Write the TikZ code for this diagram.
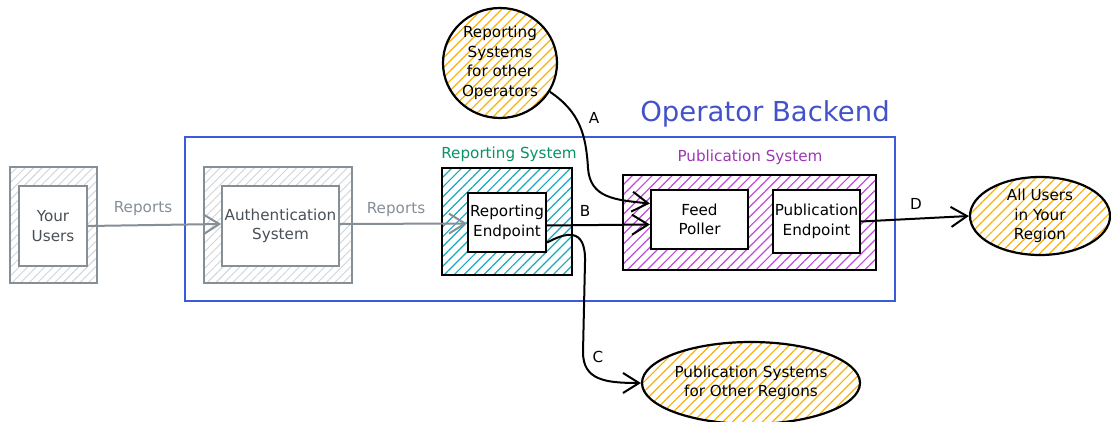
\documentclass[tikz,border=0pt]{standalone}
\usepackage{fontspec}
\setmainfont{DejaVu Sans}
\usetikzlibrary{shapes.geometric,patterns.meta,arrows.meta,calc}
\definecolor{gline}{HTML}{868E96}
\definecolor{gtext}{HTML}{495057}
\definecolor{ghatch}{HTML}{CED4DA}
\definecolor{teal}{HTML}{15AABF}
\definecolor{purp}{HTML}{BE4BDB}
\definecolor{purptext}{HTML}{9C36B5}
\definecolor{greentext}{HTML}{099268}
\definecolor{orng}{HTML}{FAB005}
\definecolor{blueline}{HTML}{3B5BDB}
\definecolor{bluetext}{HTML}{4253C9}
\tikzset{
  txt/.style={font=\fontsize{15.2}{19.5}\selectfont, align=center},
  graybox/.style={draw=gline, line width=1.7pt, pattern={Lines[angle=45,distance=6pt,line width=0.9pt]}, pattern color=ghatch, inner sep=0pt},
  grayin/.style={draw=gline, line width=1.7pt, fill=white, text=gtext, txt, inner sep=0pt},
  blkin/.style={draw=black, line width=2.2pt, fill=white, txt, inner sep=0pt},
  tealbox/.style={draw=black, line width=2.2pt, pattern={Lines[angle=45,distance=7pt,line width=1.2pt]}, pattern color=teal, inner sep=0pt},
  purpbox/.style={draw=black, line width=2.2pt, pattern={Lines[angle=45,distance=7pt,line width=1.2pt]}, pattern color=purp, inner sep=0pt},
  orngell/.style={ellipse, draw=black, line width=2.2pt, pattern={Lines[angle=45,distance=7pt,line width=1.2pt]}, pattern color=orng, txt, inner sep=0pt},
  garrow/.style={draw=gline, line width=2pt, -{Straight Barb[length=16pt,width=20pt,line width=2pt]}},
  barrow/.style={draw=black, line width=2pt, -{Straight Barb[length=16pt,width=20pt,line width=2pt]}},
  glabel/.style={txt, text=gline},
  blabel/.style={txt, text=black},
}
\begin{document}
\begin{tikzpicture}[x=1pt,y=-1pt]
\useasboundingbox (0,0) rectangle (1111,422);
% Operator backend
\draw[draw=blueline, line width=1.7pt] (185,137) rectangle (895,301);
\node[font=\fontsize{27.5}{32}\selectfont, text=bluetext, anchor=center] (obt) at (765,114) {Operator Backend};
% Your users
\node[graybox, minimum width=87pt, minimum height=116pt] (yuo) at (53.5,225) {};
\node[grayin, minimum width=68pt, minimum height=80pt] (yu) at (53,226) {Your\\Users};
% Auth
\node[graybox, minimum width=148pt, minimum height=116pt] (auo) at (278,225) {};
\node[grayin, minimum width=117pt, minimum height=80pt] (au) at (280.5,226) {Authentication\\System};
% Reporting system
\node[txt, text=greentext] (rsl) at (509,154) {Reporting System};
\node[tealbox, minimum width=130pt, minimum height=107pt] (rsb) at (507,221.5) {};
\node[blkin, minimum width=78pt, minimum height=59pt] (re) at (507,222.5) {Reporting\\Endpoint};
% Publication system
\node[txt, text=purptext] (psl) at (750,157) {Publication System};
\node[purpbox, minimum width=253pt, minimum height=95pt] (psb) at (749.5,222.5) {};
\node[blkin, minimum width=97pt, minimum height=59pt] (fp) at (699.5,219.5) {Feed\\Poller};
\node[blkin, minimum width=87pt, minimum height=63pt] (pe) at (816.5,221.5) {Publication\\Endpoint};
% External
\node[orngell, minimum width=114pt, minimum height=110pt] (rso) at (500,63) {Reporting\\Systems\\for other\\Operators};
\node[orngell, minimum width=140pt, minimum height=78pt] (aur) at (1040,216) {All Users\\in Your\\Region};
\node[orngell, minimum width=218pt, minimum height=82pt] (pso) at (751,383) {Publication Systems\\for Other Regions};
% Reports arrows
\draw[garrow] (yu.east) -- ([yshift=2pt]au.west);
\node[glabel] (r1) at (143,209) {Reports};
\draw[garrow] ([yshift=2pt]au.east) -- ([yshift=-1pt]re.west);
\node[glabel] (r2) at (396,210) {Reports};
% A
\draw[barrow] (rso.-30) .. controls (580,112) and (586,135) .. (588,168) .. controls (590,198) and (615,200) .. ([yshift=16pt]fp.west);
\node[blabel] (la) at (594,118) {A};
% B
\draw[barrow] ([yshift=-3pt]re.east) -- ([yshift=-5pt]fp.west);
\node[blabel] (lb) at (585,211) {B};
% C
\draw[barrow] ([yshift=-20pt]re.east) .. controls (565,233) and (586,226) .. (585,262) -- (583,352) .. controls (583,380) and (605,383) .. (pso.west);
\node[blabel] (lc) at (598,357) {C};
% D
\draw[barrow] (pe.east) -- (aur.west);
\node[blabel] (ld) at (916,204) {D};
\end{tikzpicture}
\end{document}
